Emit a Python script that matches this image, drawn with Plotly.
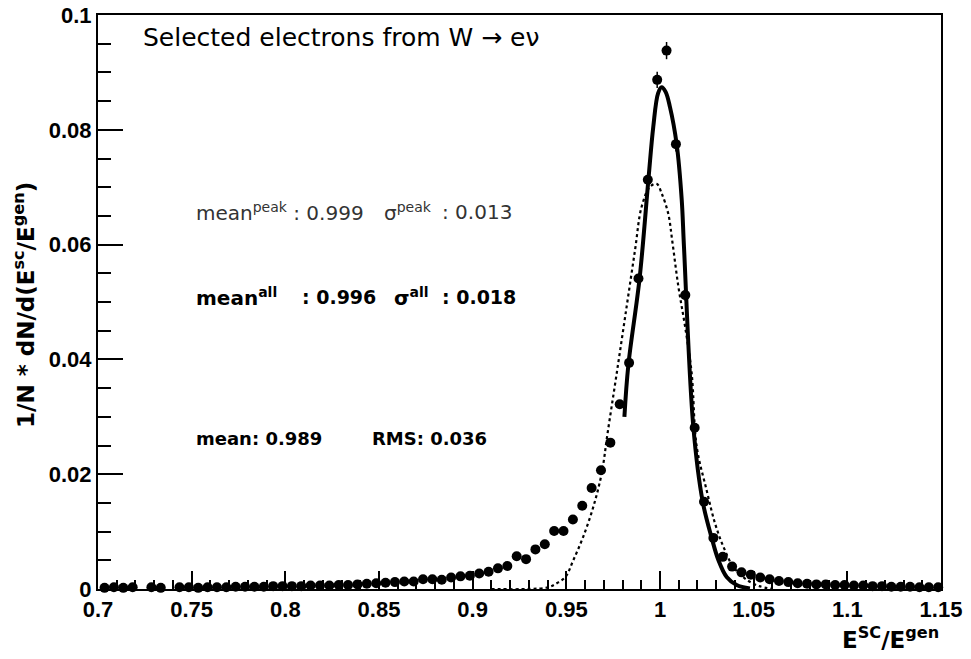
import plotly.graph_objects as go

# ---------------- data ----------------
bin_centers = [round(0.7035 + 0.005 * k, 4) for k in range(90)]
hist_values = [
    0.0002, 0.0003, 0.0002, 0.0003, None, 0.0003, 0.0002, None, 0.0003, 0.0003,   # 0.7035..
    0.0002, 0.0003, 0.0003, 0.0003, 0.0004, 0.0004, 0.0004, 0.0004, 0.0005, 0.0005,  # 0.7535..
    0.0005, 0.0005, 0.0006, 0.0006, 0.0006, 0.0007, 0.0007, 0.0008, 0.0009, 0.0010,  # 0.8035..
    0.0011, 0.0012, 0.0013, 0.0013, 0.0017, 0.0017, 0.0016, 0.0020, 0.0022, 0.0023,  # 0.8535..
    0.0027, 0.0030, 0.0036, 0.0040, 0.0057, 0.0052, 0.0069, 0.0078, 0.0101, 0.0101,  # 0.9035..
    0.0121, 0.0145, 0.0176, 0.0207, 0.0255, 0.0322, 0.0394, 0.0541, 0.0713, 0.0887,  # 0.9535..
    0.0938, 0.0775, 0.0512, 0.0281, 0.0152, 0.0089, 0.0056, 0.0039, 0.0029, 0.0025,  # 1.0035..
    0.0020, 0.0017, 0.0014, 0.0012, 0.0010, 0.0009, 0.0008, 0.0008, 0.0007, 0.0007,  # 1.0535..
    0.0006, 0.0006, 0.0005, 0.0005, 0.0004, 0.0004, 0.0004, 0.0003, 0.0003, 0.0003,  # 1.1035..
]
hist_errors = [0.0] * 57 + [0.0008, 0.0012, 0.0014, 0.0015, 0.0013, 0.0010] + [0.0] * 27

# Gaussian fit to the peak (solid)
fit_peak_x = [0.9810, 0.9831, 0.9891, 0.9938, 0.9964, 0.9990, 1.0009, 1.0030, 1.0053, 1.0089,
              1.0116, 1.0128, 1.0178, 1.0228, 1.0276, 1.0311, 1.0356, 1.0409, 1.0480]
fit_peak_y = [0.0300, 0.0390, 0.0541, 0.0713, 0.0805, 0.0864, 0.0874, 0.0866, 0.0840, 0.0775,
              0.0678, 0.0596, 0.0282, 0.0152, 0.0089, 0.0051, 0.0021, 0.0007, 0.0001]

# Gaussian fit to the whole distribution (dotted)
fit_all_x = [0.9100, 0.9300, 0.9404, 0.9449, 0.9495, 0.9537, 0.9590, 0.9644, 0.9689, 0.9720,
             0.9769, 0.9822, 0.9867, 0.9902, 0.9947, 0.9982, 1.0009, 1.0044, 1.0066, 1.0098,
             1.0134, 1.0169, 1.0196, 1.0249, 1.0294, 1.0338, 1.0391, 1.0463, 1.0530, 1.0600]
fit_all_y = [0.0000, 0.0000, 0.0003, 0.0010, 0.0021, 0.0050, 0.0091, 0.0143, 0.0202, 0.0271,
             0.0376, 0.0492, 0.0591, 0.0666, 0.0701, 0.0706, 0.0689, 0.0654, 0.0605, 0.0527,
             0.0457, 0.0376, 0.0248, 0.0172, 0.0114, 0.0074, 0.0039, 0.0016, 0.0005, 0.0000]

x_tick_vals = [0.7, 0.75, 0.8, 0.85, 0.9, 0.95, 1.0, 1.05, 1.1, 1.15]
x_tick_text = ["0.7", "0.75", "0.8", "0.85", "0.9", "0.95", "1", "1.05", "1.1", "1.15"]
y_tick_vals = [0, 0.02, 0.04, 0.06, 0.08, 0.1]
y_tick_text = ["0", "0.02", "0.04", "0.06", "0.08", "0.1"]

# ---------------- figure ----------------
TICKFONT = "Liberation Sans, Arial, Helvetica, sans-serif"
TEXTFONT = "DejaVu Sans, Liberation Sans, sans-serif"
fig = go.Figure()

fig.add_trace(go.Scatter(
    x=fit_all_x, y=fit_all_y, mode="lines", line=dict(color="black", width=2.2, dash="dot", shape="spline"),
    showlegend=False, hoverinfo="skip"))
fig.add_trace(go.Scatter(
    x=fit_peak_x, y=fit_peak_y, mode="lines", line=dict(color="black", width=4, shape="spline"),
    showlegend=False, hoverinfo="skip"))
fig.add_trace(go.Scatter(
    x=bin_centers, y=hist_values, mode="markers",
    marker=dict(color="black", size=10, symbol="circle"),
    error_y=dict(type="data", array=hist_errors, color="black", thickness=1.5, width=0),
    cliponaxis=False, showlegend=False))

L, R, T, B = 98, 30, 15, 70
W, H = 971, 659
pw, ph = W - L - R, H - T - B


def px(xp):
    return (xp - L) / pw


def py(yp):
    return (H - B - yp) / ph


ann = []
def text(xp, yp, s, size=20, bold=True, xanchor="left", yanchor="middle", color="black", angle=0):
    ann.append(dict(x=px(xp), y=py(yp), xref="paper", yref="paper", text=s, showarrow=False,
                    xanchor=xanchor, yanchor=yanchor, textangle=angle,
                    font=dict(family=TEXTFONT, size=size, color=color, weight="bold" if bold else "normal")))

text(141, 37, "Selected electrons from W → eν", size=25, bold=False)
text(194, 212, "mean<sup>peak</sup> : 0.999", size=20, bold=False, color="#333")
text(382, 212, "σ<sup>peak</sup>", size=20, bold=False, color="#333")
text(440, 212, ": 0.013", size=20, bold=False, color="#333")
text(194, 297, "mean<sup>all</sup>", size=20)
text(300, 297, ": 0.996", size=19)
text(392, 297, "σ<sup>all</sup>", size=20)
text(440, 297, ": 0.018", size=19)
text(194, 439, "mean: 0.989", size=18)
text(370, 439, "RMS: 0.036", size=18)
text(941, 638, "E<sup>SC</sup>/E<sup>gen</sup>", size=23, xanchor="right")
text(24, 180, "1/N * dN/d(E<sup>sc</sup>/E<sup>gen</sup>)", size=23, xanchor="center", yanchor="top", angle=-90)

axis_common = dict(showline=True, linecolor="black", linewidth=2, mirror=True, ticks="inside",
                   tickcolor="black", tickwidth=1.5, showgrid=False, zeroline=False, automargin=False,
                   tickfont=dict(family=TICKFONT, size=22, color="black", weight="bold"))

fig.update_layout(
    width=W, height=H, margin=dict(l=L, r=R, t=T, b=B, autoexpand=False),
    paper_bgcolor="white", plot_bgcolor="white",
    xaxis=dict(range=[0.7, 1.15], tickvals=x_tick_vals, ticktext=x_tick_text, ticklen=18,
               minor=dict(dtick=0.01, tick0=0.7, ticks="inside", ticklen=9, tickcolor="black", tickwidth=1.5),
               **axis_common),
    yaxis=dict(range=[0, 0.1], tickvals=y_tick_vals, ticktext=y_tick_text, ticklen=25,
               minor=dict(dtick=0.005, tick0=0, ticks="inside", ticklen=13, tickcolor="black", tickwidth=1.5),
               **axis_common),
    annotations=ann,
)

fig.write_html("out.html", config={"displayModeBar": False},
               post_script="document.body.style.margin='0';document.body.style.padding='0';")
